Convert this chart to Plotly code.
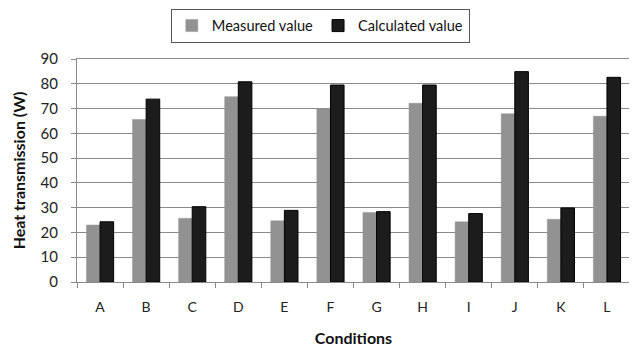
import plotly.graph_objects as go

categories = ["A", "B", "C", "D", "E", "F", "G", "H", "I", "J", "K", "L"]
measured = [23.0, 65.6, 25.7, 74.8, 24.7, 70.0, 28.0, 72.1, 24.3, 67.9, 25.3, 66.9]
calculated = [24.3, 73.8, 30.4, 80.8, 28.9, 79.5, 28.4, 79.5, 27.6, 84.9, 29.9, 82.6]
y_ticks = list(range(0, 91, 10))

FONT = "Lato, 'DejaVu Sans', sans-serif"

fig = go.Figure()
fig.add_trace(go.Bar(x=categories, y=measured, name="Measured value",
                     marker=dict(color="#929292", line=dict(color="#929292", width=0.5))))
fig.add_trace(go.Bar(x=categories, y=calculated, name="Calculated value",
                     marker=dict(color="#1c1c1c", line=dict(color="#000000", width=1))))

# page body has an 8px default margin, so the figure is sized to fit the window
fig.update_layout(
    width=629, height=339,
    margin=dict(l=69, r=7, t=51, b=65, autoexpand=False),
    paper_bgcolor="white", plot_bgcolor="white",
    barmode="group", bargap=0.41, bargroupgap=0,
    font=dict(family=FONT, size=14, color="#222222"),
    showlegend=True,
    legend=dict(orientation="h", x=0.44, xanchor="center", y=1.226, yanchor="top",
                bordercolor="#555555", borderwidth=1, bgcolor="white",
                font=dict(family=FONT, size=14.6, color="#111111"),
                tracegroupgap=0),
    xaxis=dict(
        automargin=False,
        showline=True, linecolor="#8a8a8a", linewidth=1, mirror=True,
        ticks="outside", tickson="boundaries", ticklen=5, tickcolor="#8a8a8a",
        ticklabelstandoff=12,
        tickfont=dict(family=FONT, size=14, color="#222222"),
        title=dict(text="<b>Conditions</b>", font=dict(family=FONT, size=16, color="#111111"), standoff=19),
        showgrid=False,
    ),
    yaxis=dict(
        automargin=False,
        range=[0, 90], tickvals=y_ticks,
        showline=True, linecolor="#8a8a8a", linewidth=1, mirror=True,
        ticks="outside", ticklen=5, tickcolor="#8a8a8a",
        ticklabelstandoff=10,
        showgrid=True, gridcolor="#8a8a8a", gridwidth=1,
        tickfont=dict(family=FONT, size=15, color="#222222"),
        title=dict(text="<b>Heat transmission (W)</b>", font=dict(family=FONT, size=16, color="#111111"), standoff=10),
        zeroline=False,
    ),
)

fig.write_html("out.html")
